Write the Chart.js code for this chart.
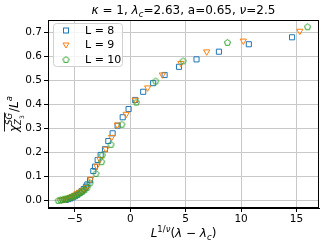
<!DOCTYPE html>
<html><head><meta charset="utf-8">
<script src="https://cdn.jsdelivr.net/npm/chart.js@4.4.1/dist/chart.umd.min.js"></script>
<style>html,body{margin:0;padding:0;background:#fff}#wrap{width:327px;height:245px}</style>
</head><body><div id="wrap"><canvas id="c" width="327" height="245"></canvas></div>
<script>
// ---- data ----
const seriesLabels = ["L = 8", "L = 9", "L = 10"];
const xL8 = [-5.8,-5.6,-5.4,-5.2,-5.0,-4.8,-4.6,-4.4,-4.2,-4.0,-3.87,-3.63,-3.33,-3.18,-2.94,-2.67,-2.28,-1.98,-1.59,-1.14,-0.68,-0.15,0.45,1.17,2.07,3.1,4.4,5.98,8.0,10.7,14.6];
const yL8 = [0.003,0.006,0.009,0.013,0.018,0.024,0.031,0.039,0.048,0.058,0.067,0.085,0.123,0.141,0.169,0.19,0.214,0.248,0.28,0.312,0.347,0.381,0.419,0.453,0.489,0.523,0.557,0.588,0.62,0.651,0.68];
const xL9 = [-6.2,-6.0,-5.8,-5.6,-5.4,-5.2,-5.0,-4.8,-4.6,-4.4,-4.2,-3.93,-3.57,-3.03,-2.73,-2.2,-1.68,-1.17,-0.37,0.45,1.57,2.9,4.57,6.9,10.2,15.3];
const yL9 = [0.002,0.004,0.007,0.010,0.014,0.018,0.023,0.029,0.035,0.036,0.044,0.055,0.09,0.144,0.172,0.215,0.264,0.315,0.36,0.419,0.47,0.524,0.572,0.62,0.665,0.706];
const xL10 = [-6.5,-6.3,-6.1,-5.9,-5.7,-5.5,-5.3,-5.1,-4.9,-4.7,-4.5,-4.3,-4.1,-3.9,-3.63,-3.09,-2.58,-2.52,-1.74,-0.75,0.55,2.3,4.77,8.77,16.0];
const yL10 = [0.001,0.003,0.005,0.007,0.009,0.012,0.015,0.019,0.023,0.028,0.033,0.039,0.046,0.055,0.074,0.113,0.162,0.19,0.234,0.318,0.41,0.498,0.582,0.659,0.724];
const xTicks = [-5,0,5,10,15];
const yTicks = [0.0,0.1,0.2,0.3,0.4,0.5,0.6,0.7];

const FONT = "'DejaVu Sans', sans-serif";
const colors = ['#1f77b4','#ff7f0e','#2ca02c'];

function pentagon(color){
  const cv = document.createElement('canvas'); cv.width = 9; cv.height = 9;
  const c = cv.getContext('2d'); c.strokeStyle = color; c.lineWidth = 1;
  c.beginPath();
  for(let i=0;i<5;i++){const a=-Math.PI/2+i*2*Math.PI/5; const px=4.5+3.2*Math.cos(a), py=4.8+3.2*Math.sin(a); i?c.lineTo(px,py):c.moveTo(px,py);}
  c.closePath(); c.stroke(); return cv;
}
const pent = pentagon(colors[2]);
const zip = (xs,ys)=>xs.map((x,i)=>({x:x,y:ys[i]}));

function drawPieces(ctx, pieces, x, y, align){
  let w=0;
  pieces.forEach(p=>{ctx.font=(p.it?'oblique ':'')+p.s+'px '+FONT; p.w=ctx.measureText(p.t).width; if(!p.stack) w+=p.w;});
  let cx = align==='center'? x-w/2 : x;
  let prevX = cx, prevW=0;
  pieces.forEach(p=>{
    ctx.font=(p.it?'oblique ':'')+p.s+'px '+FONT;
    let px = p.stack ? prevX : cx;
    ctx.fillText(p.t, px, y+(p.dy||0));
    if(!p.stack){prevX=cx; cx+=p.w;} else if(p.w>prevW){}
    if(p.adv){cx = px + p.adv;}
  });
  return {start: align==='center'? x-w/2 : x, width:w};
}

const deco = {
  id:'deco',
  afterDraw(chart){
    const ctx = chart.ctx, a = chart.chartArea;
    ctx.save();
    // frame
    ctx.strokeStyle='#000'; ctx.lineWidth=1;
    ctx.strokeRect(Math.round(a.left)+0.5, Math.round(a.top)+0.5, Math.round(a.right-a.left)-1, Math.round(a.bottom-a.top)-1);
    // legend
    const lx=53.5, ly=23.5, lw=69, lh=43;
    ctx.fillStyle='rgba(255,255,255,0.8)'; ctx.strokeStyle='#d0d0d0';
    ctx.beginPath(); ctx.roundRect(lx,ly,lw,lh,3); ctx.fill(); ctx.stroke();
    const rows=[30.5,45,59.5];
    ctx.textBaseline='middle'; ctx.fillStyle='#000'; ctx.font='11px '+FONT;
    seriesLabels.forEach((t,i)=>{
      const mx=66, my=rows[i];
      ctx.strokeStyle=colors[i]; ctx.lineWidth=1;
      if(i===0){ctx.strokeRect(mx-2.5,my-2.5,5,5);}
      else if(i===1){ctx.beginPath();ctx.moveTo(mx-3,my-2);ctx.lineTo(mx+3,my-2);ctx.lineTo(mx,my+3);ctx.closePath();ctx.stroke();}
      else {ctx.drawImage(pent, mx-4.5, my-4.5);}
      ctx.fillStyle='#000'; ctx.fillText(t, 85, my+0.5);
    });
    // title
    ctx.textBaseline='alphabetic'; ctx.fillStyle='#000';
    drawPieces(ctx,[
      {t:'κ',s:12,it:true},{t:' = 1, ',s:12},{t:'λ',s:12,it:true},{t:'c',s:8.5,it:true,dy:2.5},
      {t:'=2.63, a=0.65, ',s:12},{t:'ν',s:12,it:true},{t:'=2.5',s:12}
    ], (a.left+a.right)/2, 14, 'center');
    // x label
    drawPieces(ctx,[
      {t:'L',s:12,it:true},{t:'1/',s:8.5,dy:-5},{t:'ν',s:8.5,it:true,dy:-5},{t:'(',s:12},{t:'λ',s:12,it:true},
      {t:' − ',s:12},{t:'λ',s:12,it:true},{t:'c',s:8.5,it:true,dy:2.5},{t:')',s:12}
    ], (a.left+a.right)/2, 237, 'center');
    // y label (rotated)
    ctx.translate(18, (a.top+a.bottom)/2);
    ctx.rotate(-Math.PI/2);
    const parts=[{t:'χ',s:12,it:true}];
    ctx.font='oblique 12px '+FONT; const wChi=ctx.measureText('χ').width;
    ctx.font='oblique 8.5px '+FONT; const wSG=ctx.measureText('SG').width; const wZ=ctx.measureText('Z').width;
    ctx.font='6px '+FONT; const w3=ctx.measureText('3').width;
    const wScr=Math.max(wSG,wZ+w3);
    ctx.font='12px '+FONT; const wSl=ctx.measureText('/').width;
    ctx.font='oblique 12px '+FONT; const wLL=ctx.measureText('L').width;
    ctx.font='oblique 8.5px '+FONT; const wa=ctx.measureText('a').width;
    const total=wChi+wScr+1+wSl+wLL+wa;
    let x0=-total/2;
    ctx.font='oblique 12px '+FONT; ctx.fillText('χ',x0,0);
    ctx.font='oblique 8.5px '+FONT; ctx.fillText('SG',x0+wChi,-6); ctx.fillText('Z',x0+wChi,3);
    ctx.font='6px '+FONT; ctx.fillText('3',x0+wChi+wZ,5.5);
    ctx.fillRect(x0+0.5,-14,wChi+wScr,0.9);
    let x1=x0+wChi+wScr+1;
    ctx.font='12px '+FONT; ctx.fillText('/',x1,0); x1+=wSl;
    ctx.font='oblique 12px '+FONT; ctx.fillText('L',x1,0); x1+=wLL;
    ctx.font='oblique 8.5px '+FONT; ctx.fillText('a',x1,-6);
    ctx.restore();
  }
};

const common = {pointRadius:3.6, pointHoverRadius:3.6, borderWidth:1, pointBorderWidth:1, showLine:false, backgroundColor:'rgba(0,0,0,0)'};
new Chart(document.getElementById('c'), {
  type:'scatter',
  data:{datasets:[
    Object.assign({label:seriesLabels[0], data:zip(xL8,yL8), borderColor:colors[0], pointStyle:'rect', order:2}, common),
    Object.assign({label:seriesLabels[1], data:zip(xL9,yL9), borderColor:colors[1], pointStyle:'triangle', pointRotation:180, order:1}, common),
    Object.assign({label:seriesLabels[2], data:zip(xL10,yL10), borderColor:colors[2], pointStyle:pent, order:0}, common)
  ]},
  plugins:[deco],
  options:{
    responsive:false, animation:false, devicePixelRatio:1,
    layout:{padding:{left:0,right:8,top:20,bottom:0}},
    plugins:{legend:{display:false}, tooltip:{enabled:false}, title:{display:false}},
    scales:{
      x:{type:'linear', min:-7.42, max:17.03,
        afterBuildTicks:s=>{s.ticks=xTicks.map(v=>({value:v}));},
        afterFit:s=>{s.height=37;},
        grid:{color:'#c8c8c8', lineWidth:1, tickColor:'#000', tickLength:4, drawTicks:true},
        border:{color:'#000', width:1},
        ticks:{font:{family:FONT,size:10.5}, color:'#000', padding:1, maxRotation:0, autoSkip:false,
          callback:v=>String(v).replace('-','−')}
      },
      y:{type:'linear', min:-0.031, max:0.752,
        afterBuildTicks:s=>{s.ticks=yTicks.map(v=>({value:v}));},
        afterFit:s=>{s.width=48;},
        grid:{color:'#c8c8c8', lineWidth:1, tickColor:'#000', tickLength:4, drawTicks:true},
        border:{color:'#000', width:1},
        ticks:{font:{family:FONT,size:10.5}, color:'#000', padding:2, autoSkip:false,
          callback:v=>v.toFixed(1)}
      }
    }
  }
});
</script></body></html>
